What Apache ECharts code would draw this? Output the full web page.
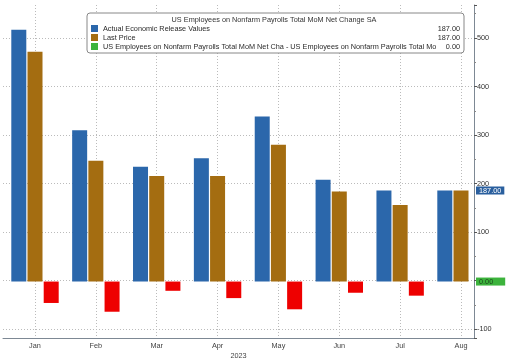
<!DOCTYPE html>
<html><head><meta charset="utf-8">
<script src="https://cdn.jsdelivr.net/npm/echarts@6/dist/echarts.min.js"></script>
<style>html,body{margin:0;padding:0;background:#fff}#c{width:514px;height:364px}</style>
</head><body><div id="c"></div>
<script>
const months = ['Jan','Feb','Mar','Apr','May','Jun','Jul','Aug'];
const actual = [517, 311, 236, 253, 339, 209, 187, 187];
const lastPrice = [472, 248, 217, 217, 281, 185, 157, 187];
const diff = [-44, -62, -19, -34, -57, -23, -29, 0];
const yearLabel = '2023';
const chartTitle = 'US Employees on Nonfarm Payrolls Total MoM Net Change SA';
const N1 = 'Actual Economic Release Values';
const N2 = 'Last Price';
const N3 = 'US Employees on Nonfarm Payrolls Total MoM Net Cha - US Employees on Nonfarm Payrolls Total Mo';

const FONT = '"Liberation Sans", Arial, sans-serif';
const FS = 7.3;
const BLUE = '#2b67ab', BROWN = '#a46d11', RED = '#ee0000', GREEN = '#3cb33c';
const YMIN = -118, YMAX = 568, TOP = 5, BOTTOM = 25;
const last = a => a[a.length - 1].toFixed(2);
const legendVals = {[N1]: last(actual), [N2]: last(lastPrice), [N3]: last(diff)};

const chart = echarts.init(document.getElementById('c'), null, {renderer: 'canvas'});
chart.setOption({
  animation: false,
  backgroundColor: '#fff',
  textStyle: {fontFamily: FONT},
  title: {
    text: chartTitle, left: 274, top: 16, textAlign: 'center', padding: 0,
    textStyle: {fontSize: FS, fontWeight: 'normal', color: '#333', fontFamily: FONT}
  },
  legend: {
    orient: 'vertical', left: 87, top: 13, padding: [12, 4, 3, 4],
    borderColor: '#888', borderWidth: 1, borderRadius: 3, backgroundColor: '#fff',
    itemWidth: 7, itemHeight: 7, itemGap: 2, icon: 'rect',
    data: [N1, N2, N3],
    formatter: name => `{n|${name}}{v|${legendVals[name]}}`,
    textStyle: {
      fontSize: FS, color: '#2a2a2a', fontFamily: FONT,
      rich: {n: {width: 333, fontSize: FS, fontFamily: FONT, color: '#2a2a2a'},
             v: {width: 24, align: 'right', fontSize: FS, fontFamily: FONT, color: '#2a2a2a'}}
    }
  },
  grid: [
    {left: 35, right: 53, top: TOP, bottom: BOTTOM},
    {left: 3, right: 40, top: TOP, bottom: BOTTOM}
  ],
  xAxis: [
    {gridIndex: 0, type: 'category', data: months, boundaryGap: false,
     axisLine: {show: false}, axisTick: {show: false},
     axisLabel: {fontSize: FS, color: '#444', margin: 3, fontFamily: FONT},
     splitLine: {show: true, lineStyle: {type: [1, 2], color: '#bbb'}}},
    {gridIndex: 1, type: 'value', min: 0, max: 1,
     axisLine: {show: true, onZero: false, lineStyle: {color: '#7d8894'}},
     axisTick: {show: false}, axisLabel: {show: false}, splitLine: {show: false},
     name: yearLabel, nameLocation: 'middle', nameGap: 14,
     nameTextStyle: {fontSize: FS, color: '#444', fontFamily: FONT}}
  ],
  yAxis: [
    {gridIndex: 0, type: 'value', min: YMIN, max: YMAX, show: false},
    {gridIndex: 1, type: 'value', position: 'right', min: YMIN, max: YMAX,
     axisLine: {show: true, onZero: false, lineStyle: {color: '#7d8894'}},
     axisTick: {show: true, length: 3, lineStyle: {color: '#555'}},
     minorTick: {show: true, splitNumber: 2, length: 2, lineStyle: {color: '#888'}},
     axisLabel: {fontSize: FS, color: '#333', margin: 3, showMinLabel: false, showMaxLabel: false, fontFamily: FONT},
     splitLine: {show: true, showMinLine: false, showMaxLine: false, lineStyle: {type: [1, 2], color: '#bbb'}}}
  ],
  series: [
    {type: 'bar', name: N1, xAxisIndex: 0, yAxisIndex: 0, data: actual,
     barWidth: 15, barGap: '8%', clip: false, itemStyle: {color: BLUE},
     markLine: {symbol: 'none', silent: true, lineStyle: {width: 0, color: 'transparent'},
       label: {show: true, position: 'end', distance: 15, formatter: last(actual), color: '#fff',
               backgroundColor: '#2a5f9e', padding: [1, 3, 0, 3], fontSize: FS, fontFamily: FONT},
       data: [{yAxis: actual[actual.length - 1]}]}},
    {type: 'bar', name: N2, xAxisIndex: 0, yAxisIndex: 0, data: lastPrice,
     barWidth: 15, barGap: '8%', clip: false, itemStyle: {color: BROWN}},
    {type: 'bar', name: N3, xAxisIndex: 0, yAxisIndex: 0,
     data: diff.map(v => ({value: v, itemStyle: {color: v < 0 ? RED : GREEN}})),
     barWidth: 15, barGap: '8%', clip: false, itemStyle: {color: GREEN},
     markLine: {symbol: 'none', silent: true, lineStyle: {width: 0, color: 'transparent'},
       label: {show: true, position: 'end', distance: 15, formatter: last(diff), color: '#1d4a1d',
               backgroundColor: GREEN, padding: [1, 12, 0, 3], fontSize: FS, fontFamily: FONT},
       data: [{yAxis: diff[diff.length - 1]}]}}
  ]
});
</script></body></html>
